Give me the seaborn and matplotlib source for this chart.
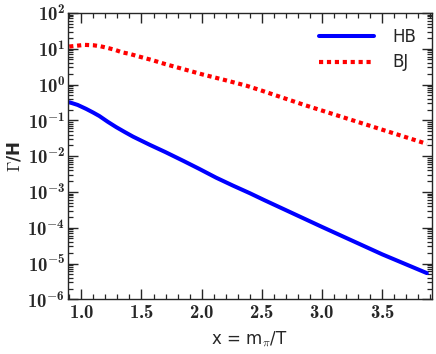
#!/usr/bin/env python3
"""Interaction rate over Hubble rate vs m_pi/T, HB and BJ curves."""

import matplotlib as mpl
import matplotlib.pyplot as plt
from matplotlib.ticker import FixedLocator, LogLocator, MultipleLocator, NullFormatter
import pandas as pd
import seaborn as sns

# values
hb_x = [0.90, 0.97, 1.04, 1.10, 1.15, 1.22, 1.29, 1.36, 1.43, 1.57, 1.70, 1.85,
        1.98, 2.12, 2.26, 2.40, 2.52, 3.00, 3.50, 3.87]
hb_y = [0.32, 0.269, 0.209, 0.164, 0.132, 0.091, 0.0646, 0.0473, 0.035, 0.0206,
        0.0129, 0.0073, 0.0044, 0.0025, 0.0015, 9.2e-4, 5.9e-4, 1.05e-4, 1.8e-5, 5.4e-6]

bj_x = [0.90, 0.97, 1.03, 1.10, 1.16, 1.22, 1.28, 1.34, 1.40, 1.46, 1.59, 1.70,
        1.83, 2.01, 2.19, 2.37, 2.49, 2.85, 3.34, 3.87]
bj_y = [11.5, 12.2, 12.8, 12.5, 11.7, 10.5, 9.3, 7.9, 7.2, 6.3, 4.8, 3.7,
        2.8, 1.9, 1.34, 0.93, 0.69, 0.27, 0.081, 0.022]

x_ticks = [1.0, 1.5, 2.0, 2.5, 3.0, 3.5]
y_exps = [-6, -5, -4, -3, -2, -1, 0, 1, 2]

BLUE = "#0000ff"
RED = "#ff0000"


def main() -> None:
    sns.set_style("ticks")
    mpl.rcParams.update(
        {
            "font.family": ["DejaVu Sans"],
            "mathtext.fontset": "custom",
            "mathtext.rm": "cmb10",
            "mathtext.bf": "cmb10",
            "mathtext.it": "cmmi10",
            "mathtext.cal": "cmsy10",
            "xtick.direction": "in",
            "ytick.direction": "in",
            "xtick.top": True,
            "ytick.right": True,
            "axes.linewidth": 1.0,
        }
    )

    hb = pd.DataFrame({"x": hb_x, "rate": hb_y})
    bj = pd.DataFrame({"x": bj_x, "rate": bj_y})

    fig = plt.figure(figsize=(4.36, 3.54), dpi=100)
    ax = fig.add_axes([0.156, 0.1545, 0.834, 0.809])

    sns.lineplot(data=hb, x="x", y="rate", color=BLUE, lw=2.9, label="HB", ax=ax)
    sns.lineplot(data=bj, x="x", y="rate", color=RED, lw=3.0, label="BJ", ax=ax,
                 linestyle=(0, (1, 0.9)), dash_capstyle="butt")

    ax.set_yscale("log")
    ax.set_xlim(0.89, 3.91)
    ax.set_ylim(1e-6, 1e2)

    ax.xaxis.set_major_locator(FixedLocator(x_ticks))
    ax.xaxis.set_minor_locator(MultipleLocator(0.1))
    ax.set_xticklabels([rf"$\mathrm{{{t:.1f}}}$" for t in x_ticks])
    ax.yaxis.set_major_locator(FixedLocator([10.0 ** e for e in y_exps]))
    ax.yaxis.set_minor_locator(LogLocator(base=10, subs=range(2, 10), numticks=20))
    ax.yaxis.set_minor_formatter(NullFormatter())
    ax.set_yticklabels([rf"$\mathrm{{10^{{{e}}}}}$" for e in y_exps])

    ax.tick_params(which="major", length=7, width=1.0, labelsize=13.5, pad=3)
    ax.tick_params(which="minor", length=3.6, width=0.9)
    ax.tick_params(axis="y", which="major", pad=2)

    ax.set_xlabel(r"x = m$_\pi$/T", fontsize=12, labelpad=5)
    ax.set_ylabel(r"$\Gamma$/H", fontsize=12, fontweight="bold", labelpad=3)

    ax.legend(loc="upper right", frameon=False, fontsize=12, handlelength=3.3,
              handletextpad=1.1, labelspacing=0.45, borderaxespad=0.5)

    fig.savefig("out.png", dpi=100)
    plt.close(fig)


if __name__ == "__main__":
    main()
